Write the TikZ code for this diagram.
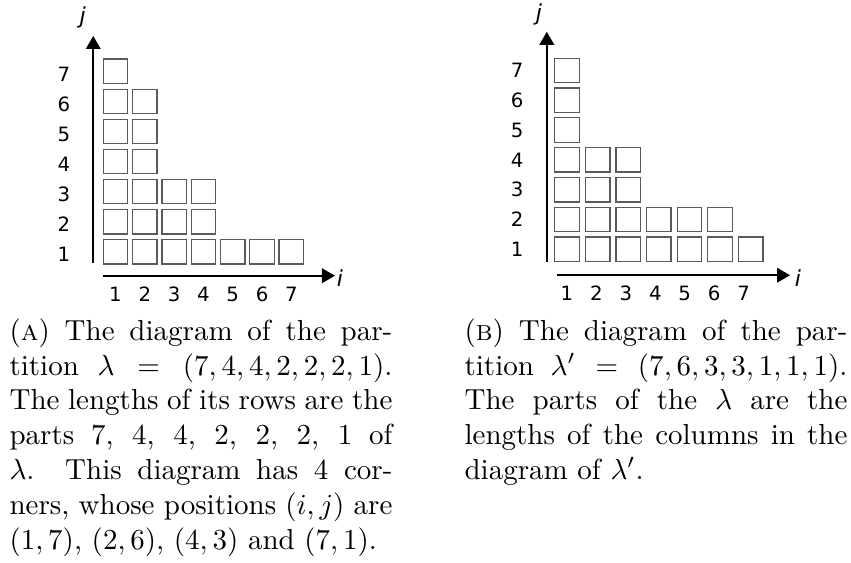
\documentclass[tikz,border=0pt]{standalone}
\usepackage{fontspec}
\newfontfamily\axisfont{DejaVu Sans}
\usetikzlibrary{arrows.meta}
\definecolor{boxgray}{HTML}{5A5A5A}
\tikzset{
  cell/.style={
    draw=boxgray,
    line width=0.45pt,
    minimum size=8.45pt,
    inner sep=0pt
  },
  tick/.style={
    font=\axisfont\fontsize{6.8}{8}\selectfont,
    inner sep=0pt
  },
  axislabel/.style={
    font=\axisfont\itshape\fontsize{7.6}{9}\selectfont,
    inner sep=0pt
  },
  axis/.style={
    -{Triangle[length=4.5pt,width=5pt]},
    draw=black,
    line width=0.7pt
  },
  caption/.style={
    text width=132pt,
    align=justify,
    anchor=north west,
    inner sep=0pt,
    font=\fontsize{10}{12}\selectfont
  }
}

\begin{document}
\begin{tikzpicture}
  \useasboundingbox (0,0) rectangle (10.312,6.822);

  % (a) lambda
  \begin{scope}[shift={(1.0446cm,3.408cm)}, x=0.3551cm, y=0.3641cm]
    \foreach \r/\n in {1/7,2/4,3/4,4/2,5/2,6/2,7/1}
      \foreach \c in {1,...,\n}
        \node[cell] (a\c-\r) at (\c,\r) {};
    \foreach \k in {1,...,7} {
      \node[tick] (ay\k) at (-0.76,\k-0.09) {\k};
      \node[tick, anchor=base] (ax\k) at (\k,-0.66) {\k};
    }
    \coordinate (ay0) at (0.24,0.64);
    \coordinate (ay1) at (0.24,8.18);
    \coordinate (ax0) at (0.574,0.2);
    \coordinate (ax1) at (8.49,0.2);
    \draw[axis] (ay0) -- (ay1);
    \draw[axis] (ax0) -- (ax1);
    \node[axislabel] (aj) at (-0.12,8.8) {j};
    \node[axislabel] (ai) at (8.66,0.11) {i};
  \end{scope}

  % (b) lambda'
  \begin{scope}[shift={(6.500cm,3.440cm)}, x=0.3708cm, y=0.3611cm]
    \foreach \r/\n in {1/7,2/6,3/3,4/3,5/1,6/1,7/1}
      \foreach \c in {1,...,\n}
        \node[cell] (b\c-\r) at (\c,\r) {};
    \foreach \k in {1,...,7} {
      \node[tick] (by\k) at (-0.63,\k) {\k};
      \node[tick, anchor=base] (bx\k) at ({1+(\k-1)*0.962},-0.72) {\k};
    }
    \coordinate (by0) at (0.34,0.58);
    \coordinate (by1) at (0.34,8.3);
    \coordinate (bx0) at (0.66,0.13);
    \coordinate (bx1) at (8.29,0.13);
    \draw[axis] (by0) -- (by1);
    \draw[axis] (bx0) -- (bx1);
    \node[axislabel] (bj) at (0.085,8.89) {j};
    \node[axislabel] (bi) at (8.55,0.03) {i};
  \end{scope}

  \node[caption] (capa) at (0.109,2.969)
    {(\textsc{a}) The diagram of the partition $\lambda = (7,4,4,2,2,2,1)$.
     The lengths of its rows are the parts 7, 4, 4, 2, 2, 2, 1 of $\lambda$.
     This diagram has 4 corners, whose positions $(i,j)$ are
     $(1,7)$, $(2,6)$, $(4,3)$ and $(7,1)$.};
  \node[caption] (capb) at (5.623,2.969)
    {(\textsc{b}) The diagram of the partition $\lambda' = (7,6,3,3,1,1,1)$.
     The parts of the $\lambda$ are the lengths of the columns in the
     diagram of $\lambda'$.};
\end{tikzpicture}
\end{document}
